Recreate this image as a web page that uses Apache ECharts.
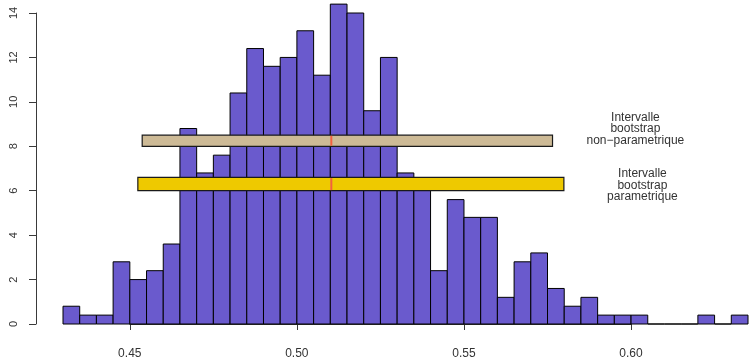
<!DOCTYPE html>
<html>
<head>
<meta charset="utf-8">
<script src="https://cdn.jsdelivr.net/npm/echarts@6/dist/echarts.min.js"></script>
<style>
  html, body { margin: 0; padding: 0; background: #ffffff; }
  #chart { width: 749px; height: 362px; }
</style>
</head>
<body>
<div id="chart"></div>
<script>
// Histogram of bootstrap estimates (density scale), bins of width 0.005 from 0.43
const binStart = 0.43;
const binWidth = 0.005;
const density = [
  0.8, 0.4, 0.4, 2.8, 2.0, 2.4, 3.6, 8.8, 6.8, 7.6,
  10.4, 12.4, 11.6, 12.0, 13.2, 11.2, 14.4, 14.0, 9.6, 12.0,
  6.8, 6.4, 2.4, 5.6, 4.8, 4.8, 1.2, 2.8, 3.2, 1.6,
  0.8, 1.2, 0.4, 0.4, 0.4, 0, 0, 0, 0.4, 0,
  0.4
];

// Confidence intervals: [lower, upper] on x, [bottom, top] band height on y
const estimate = 0.5103;
const intervalNonParam = [0.4537, 0.5765];
const bandNonParam = [8.0, 8.5];
const intervalParam = [0.4524, 0.5799];
const bandParam = [6.0, 6.6];

// Annotation texts and anchor positions [x, y]
const labelNonParam = 'Intervalle\nbootstrap\nnon\u2212parametrique';
const labelNonParamAt = [0.6013, 8.79];
const labelParam = 'Intervalle\nbootstrap\nparametrique';
const labelParamAt = [0.6034, 6.24];

// Tick labels
const xTicks = [0.45, 0.50, 0.55, 0.60];
const yTicks = [0, 2, 4, 6, 8, 10, 12, 14];

const bins = density.map((d, i) => [binStart + i * binWidth, binStart + (i + 1) * binWidth, d]);
const bands = [
  [intervalNonParam[0], intervalNonParam[1], bandNonParam[0], bandNonParam[1], estimate, '#CDBA96'],
  [intervalParam[0], intervalParam[1], bandParam[0], bandParam[1], estimate, '#EEC900']
];
const notes = [
  [labelNonParamAt[0], labelNonParamAt[1], labelNonParam],
  [labelParamAt[0], labelParamAt[1], labelParam]
];

const axisColor = '#3a3a3a';
const textColor = '#333333';
const font = 'Liberation Sans, Arial, Helvetica, sans-serif';

const chart = echarts.init(document.getElementById('chart'), null, { renderer: 'canvas' });

chart.setOption({
  animation: false,
  backgroundColor: '#ffffff',
  grid: [
    { left: 63, width: 685, top: 13, bottom: 38 },
    { left: 129.8, width: 501.2, top: 13, bottom: 38 }
  ],
  xAxis: [
    { type: 'value', gridIndex: 0, min: binStart, max: binStart + density.length * binWidth, show: false },
    {
      type: 'value', gridIndex: 1, min: xTicks[0], max: xTicks[xTicks.length - 1], interval: 0.05,
      position: 'bottom', offset: 14,
      axisLine: { show: true, lineStyle: { color: axisColor, width: 1 } },
      axisTick: { show: true, length: 6, lineStyle: { color: axisColor, width: 1 } },
      axisLabel: {
        margin: 10, color: textColor, fontSize: 12, fontFamily: font,
        formatter: v => v.toFixed(2)
      },
      splitLine: { show: false }
    }
  ],
  yAxis: [
    {
      type: 'value', gridIndex: 0, min: yTicks[0], max: yTicks[yTicks.length - 1], interval: 2,
      position: 'left', offset: 27,
      axisLine: { show: true, lineStyle: { color: axisColor, width: 1 } },
      axisTick: { show: true, length: 7, lineStyle: { color: axisColor, width: 1 } },
      axisLabel: { rotate: 90, margin: 17, color: textColor, fontSize: 11, fontFamily: font },
      splitLine: { show: false }
    },
    { type: 'value', gridIndex: 1, min: 0, max: 14, show: false }
  ],
  series: [
    {
      // histogram bars
      type: 'custom',
      xAxisIndex: 0, yAxisIndex: 0,
      clip: false,
      data: bins,
      renderItem: (params, api) => {
        const p0 = api.coord([api.value(0), 0]);
        const p1 = api.coord([api.value(1), api.value(2)]);
        return {
          type: 'rect',
          shape: { x: p0[0], y: p1[1], width: p1[0] - p0[0], height: p0[1] - p1[1] },
          style: { fill: '#6A5ACD', stroke: '#000000', lineWidth: 1 }
        };
      }
    },
    {
      // interval bands with the point estimate marked
      type: 'custom',
      xAxisIndex: 0, yAxisIndex: 0,
      clip: false,
      data: bands,
      renderItem: (params, api) => {
        const a = api.coord([api.value(0), api.value(3)]);
        const b = api.coord([api.value(1), api.value(2)]);
        const m = api.coord([api.value(4), 0]);
        const fill = bands[params.dataIndex][5];
        return {
          type: 'group',
          children: [
            {
              type: 'rect',
              shape: { x: a[0], y: a[1], width: b[0] - a[0], height: b[1] - a[1] },
              style: { fill: fill, stroke: '#1a1a1a', lineWidth: 1.2 }
            },
            {
              type: 'line',
              z2: 10,
              shape: { x1: m[0], y1: a[1] + 0.6, x2: m[0], y2: b[1] - 0.6 },
              style: { stroke: '#F2603F', lineWidth: 2 }
            }
          ]
        };
      }
    },
    {
      // annotations beside the intervals
      type: 'custom',
      xAxisIndex: 0, yAxisIndex: 0,
      clip: false,
      data: notes,
      renderItem: (params, api) => {
        const p = api.coord([api.value(0), api.value(1)]);
        return {
          type: 'text',
          x: p[0], y: p[1],
          style: {
            text: notes[params.dataIndex][2],
            align: 'center', verticalAlign: 'middle',
            font: '12px ' + font,
            lineHeight: 11.5,
            fill: textColor
          }
        };
      }
    }
  ]
});
</script>
</body>
</html>
